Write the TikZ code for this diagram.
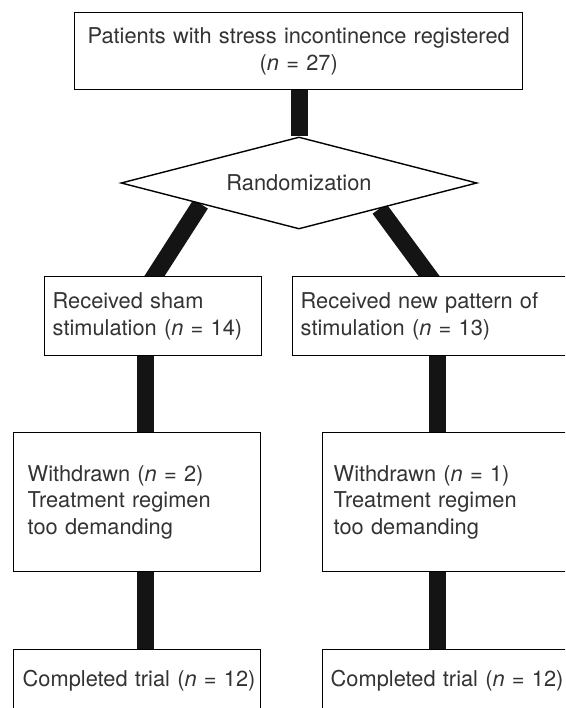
\documentclass[tikz,border=0pt]{standalone}
\usepackage{fontspec}
\setmainfont{TeX Gyre Heros}
\usetikzlibrary{shapes.geometric,calc,backgrounds}
\begin{document}
\begin{tikzpicture}[x=1pt,y=-1pt,
  txt/.style={font=\fontsize{21.8}{26.5}\selectfont, text=black!80},
  box/.style={txt, draw=black, line width=1.4pt, fill=white, rectangle,
    anchor=north west, inner ysep=0pt, align=left},
  decision/.style={txt, draw=black, line width=1.4pt, fill=white, diamond,
    aspect=3.87, inner sep=0pt, minimum width=356pt, minimum height=92pt},
  bar/.style={line width=17pt, draw=black!92}]
\useasboundingbox (0,0) rectangle (565,708);
\clip (0,0) rectangle (565,708);

\node[box, align=center, minimum width=448pt, minimum height=77pt, inner xsep=0pt,
  text width=448pt] (top) at (74,12)
  {Patients with stress incontinence registered\\(\textit{n}~=~27)};

\node[decision] (rand) at (299,183) {Randomization};

\node[box, minimum height=79pt, inner xsep=8pt, text width=201pt] (b2l) at (44,276)
  {Received sham\\\mbox{stimulation (\textit{n}~=~14)}};
\node[box, minimum height=79pt, inner xsep=8pt, text width=272pt] (b2r) at (292,276)
  {Received new pattern of\\\mbox{stimulation (\textit{n}~=~13)}};

\node[box, minimum height=139pt, inner xsep=14pt, text width=219pt] (b3l) at (13,432)
  {Withdrawn (\textit{n}~=~2)\\Treatment regimen\\too demanding};
\node[box, minimum height=139pt, inner xsep=11pt, text width=236pt] (b3r) at (322,432)
  {Withdrawn (\textit{n}~=~1)\\Treatment regimen\\too demanding};

\node[box, minimum height=62pt, inner xsep=9pt, text width=229pt] (b4l) at (13,649)
  {\mbox{Completed trial (\textit{n}~=~12)}};
\node[box, minimum height=62pt, inner xsep=8pt, text width=242pt] (b4r) at (322,649)
  {\mbox{Completed trial (\textit{n}~=~12)}};

\coordinate (cl) at (145.5,0);
\coordinate (cr) at (437,0);
\coordinate (dl) at ($(rand.west)!0.45!(rand.south)$);
\coordinate (bl) at ([xshift=110.5pt]b2l.north west);
\coordinate (dr) at ($(rand.east)!0.55!(rand.south)$);
\coordinate (br) at ([xshift=137pt]b2r.north west);

\begin{pgfonlayer}{background}
  \draw[bar] (rand.north |- top.south) -- (rand.north);
  \draw[bar] (dl) -- ($(dl)!1.2!(bl)$);
  \draw[bar] (dr) -- ($(dr)!1.2!(br)$);
  \draw[bar] (cl |- b2l.south) -- (cl |- b3l.north);
  \draw[bar] (cl |- b3l.south) -- (cl |- b4l.north);
  \draw[bar] (cr |- b2r.south) -- (cr |- b3r.north);
  \draw[bar] (cr |- b3r.south) -- (cr |- b4r.north);
\end{pgfonlayer}
\end{tikzpicture}
\end{document}
